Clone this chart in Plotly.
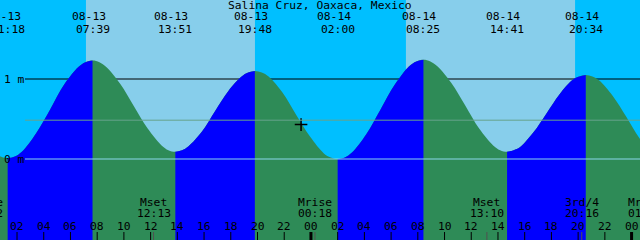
import plotly.graph_objects as go

# ---------------- data ----------------
title = "Salina Cruz, Oaxaca, Mexico"

# tide curve samples: hours from 08-13 00:00, height in metres
curve_t = [-2.90, -1.85, -0.80, 0.25, 0.78, 1.30,
           1.83, 2.36, 3.42, 4.48, 5.53, 6.59, 7.12, 7.65,
           8.17, 8.68, 9.72, 10.75, 11.78, 12.82, 13.33, 13.85,
           14.35, 14.84, 15.83, 16.83, 17.82, 18.81, 19.30, 19.80,
           20.32, 20.83, 21.87, 22.90, 23.93, 24.97, 25.48, 26.00,
           26.54, 27.07, 28.14, 29.21, 30.28, 31.35, 31.89, 32.42,
           32.94, 33.46, 34.51, 35.55, 36.59, 37.64, 38.16, 38.68,
           39.17, 39.66, 40.64, 41.63, 42.61, 43.59, 44.08, 44.57,
           45.07, 45.58, 46.58, 47.59, 48.59, 49.60, 50.10, 50.60]
curve_h = [0.87, 0.58, 0.30, 0.09, 0.03, 0.01,
           0.03, 0.09, 0.32, 0.62, 0.93, 1.15, 1.21, 1.23,
           1.21, 1.15, 0.94, 0.66, 0.38, 0.17, 0.11, 0.09,
           0.11, 0.16, 0.34, 0.60, 0.85, 1.03, 1.08, 1.10,
           1.08, 1.03, 0.83, 0.55, 0.28, 0.07, 0.02, 0.00,
           0.02, 0.08, 0.31, 0.62, 0.93, 1.16, 1.22, 1.24,
           1.22, 1.16, 0.95, 0.67, 0.38, 0.17, 0.11, 0.09,
           0.11, 0.15, 0.33, 0.57, 0.81, 0.99, 1.03, 1.05,
           1.03, 0.98, 0.79, 0.53, 0.26, 0.07, 0.02, 0.00]

# tide extremes
extreme_t = [1.30, 7.65, 13.85, 19.80, 26.00, 32.42, 38.68, 44.57]
extreme_date = ["08-13", "08-13", "08-13", "08-13", "08-14", "08-14", "08-14", "08-14"]
extreme_clock = ["01:18", "07:39", "13:51", "19:48", "02:00", "08:25", "14:41", "20:34"]
rising_pairs = [(1.30, 7.65), (13.85, 19.80), (26.00, 32.42), (38.68, 44.57)]

# daylight
sunrise_t = [7.16, 31.11]
sunset_t = [19.81, 43.77]

# moon events
moon_t = [-0.30, 12.22, 24.30, 37.17, 44.27, 49.00]
moon_name = ["Mrise", "Mset", "Mrise", "Mset", "3rd/4", "Mrise"]
moon_clock = ["23:42", "12:13", "00:18", "13:10", "20:16", "01:00"]

# hour axis
hour_ticks = list(range(2, 49, 2))
hour_labels = ["%02d" % (h % 24) for h in hour_ticks]

# reference levels
level_vals = [1.0, 0.0]
level_labels = ["1 m", "0 m"]
msl = 0.485

now_t, now_h = 23.26, 0.43

# ---------------- styling ----------------
X_RANGE = [0.726, 48.63]
Y_RANGE = [-1.0125, 1.9875]
NIGHT = "#00BFFF"
DAY = "#87CEEB"
FLOOD = "#0000FF"
EBB = "#2E8B57"
FONT = dict(family="DejaVu Sans Mono", size=11.3, color="black")
BASE = -1.3


def px(t):
    return (t - X_RANGE[0]) / (X_RANGE[1] - X_RANGE[0])


def py(ypix):
    return 1 - ypix / 240.0


fig = go.Figure()

# ebb fill for whole curve
fig.add_trace(go.Scatter(x=[curve_t[0], curve_t[-1]], y=[BASE, BASE], mode="lines",
                         line=dict(width=0), hoverinfo="skip", showlegend=False))
fig.add_trace(go.Scatter(x=curve_t, y=curve_h, mode="lines", fill="tonexty",
                         fillcolor=EBB, line=dict(width=0, shape="spline", color=EBB),
                         hoverinfo="skip", showlegend=False))

# flood fills
for a, b in rising_pairs:
    xs = [t for t in curve_t if a - 1e-9 <= t <= b + 1e-9]
    ys = [h for t, h in zip(curve_t, curve_h) if a - 1e-9 <= t <= b + 1e-9]
    fig.add_trace(go.Scatter(x=[xs[0], xs[-1]], y=[BASE, BASE], mode="lines",
                             line=dict(width=0), hoverinfo="skip", showlegend=False))
    fig.add_trace(go.Scatter(x=xs, y=ys, mode="lines", fill="tonexty",
                             fillcolor=FLOOD, line=dict(width=0, shape="spline", color=FLOOD),
                             hoverinfo="skip", showlegend=False))

# now marker
fig.add_trace(go.Scatter(x=[now_t], y=[now_h], mode="markers",
                         marker=dict(symbol="cross-thin", size=9,
                                     line=dict(width=1.5, color="black")),
                         hoverinfo="skip", showlegend=False))

shapes = []
shapes.append(dict(type="rect", xref="paper", yref="paper", x0=0, x1=1, y0=0, y1=1,
                   fillcolor=NIGHT, line=dict(width=0), layer="below"))
for a, b in zip(sunrise_t, sunset_t):
    shapes.append(dict(type="rect", xref="x", yref="paper", x0=a, x1=b, y0=0, y1=1,
                       fillcolor=DAY, line=dict(width=0), layer="below"))
# 1 m line behind the water
shapes.append(dict(type="line", xref="paper", yref="y", x0=25 / 640, x1=1,
                   y0=level_vals[0], y1=level_vals[0],
                   line=dict(color="black", width=1), layer="below"))
# datum and mean lines in front
shapes.append(dict(type="line", xref="paper", yref="y", x0=25 / 640, x1=1,
                   y0=level_vals[1], y1=level_vals[1],
                   line=dict(color="#8AD6EC", width=1), layer="above"))
shapes.append(dict(type="line", xref="paper", yref="y", x0=25 / 640, x1=1,
                   y0=msl, y1=msl, line=dict(color="#66A38B", width=1), layer="above"))

# hour ticks
for h in hour_ticks:
    w = 3 if h % 24 == 0 else 1
    shapes.append(dict(type="line", xref="x", yref="paper", x0=h, x1=h,
                       y0=0, y1=8 / 240, line=dict(color="black", width=w), layer="above"))
# event ticks
for t in moon_t:
    shapes.append(dict(type="line", xref="x", yref="paper", x0=t, x1=t,
                       y0=0, y1=8 / 240, line=dict(color="#505050", width=1), layer="above"))

ann = []
ann.append(dict(text=title, xref="paper", yref="paper", x=0.5, y=py(5.5),
                showarrow=False, font=FONT, xanchor="center", yanchor="middle"))
for t, d, c in zip(extreme_t, extreme_date, extreme_clock):
    ann.append(dict(text=d, xref="paper", yref="paper", x=px(t), y=py(17), xshift=-4,
                    showarrow=False, font=FONT, xanchor="center", yanchor="middle"))
    ann.append(dict(text=c, xref="paper", yref="paper", x=px(t), y=py(29.5),
                    showarrow=False, font=FONT, xanchor="center", yanchor="middle"))
for t, n, c in zip(moon_t, moon_name, moon_clock):
    ann.append(dict(text=n, xref="paper", yref="paper", x=px(t), y=py(202),
                    showarrow=False, font=FONT, xanchor="center", yanchor="middle"))
    ann.append(dict(text=c, xref="paper", yref="paper", x=px(t), y=py(213),
                    showarrow=False, font=FONT, xanchor="center", yanchor="middle"))
for h, lab in zip(hour_ticks, hour_labels):
    ann.append(dict(text=lab, xref="paper", yref="paper", x=px(h), y=py(226),
                    showarrow=False, font=FONT, xanchor="center", yanchor="middle"))
for v, lab in zip(level_vals, level_labels):
    ann.append(dict(text=lab, xref="paper", yref="y", x=1.5 / 640, y=v,
                    showarrow=False, font=FONT, xanchor="left", yanchor="middle"))

fig.update_layout(
    width=640, height=240, margin=dict(l=0, r=0, t=0, b=0, pad=0),
    paper_bgcolor=NIGHT, plot_bgcolor=NIGHT,
    xaxis=dict(range=X_RANGE, visible=False, fixedrange=True),
    yaxis=dict(range=Y_RANGE, visible=False, fixedrange=True),
    shapes=shapes, annotations=ann, showlegend=False,
)

fig.write_html("out.html", config={"displayModeBar": False})
